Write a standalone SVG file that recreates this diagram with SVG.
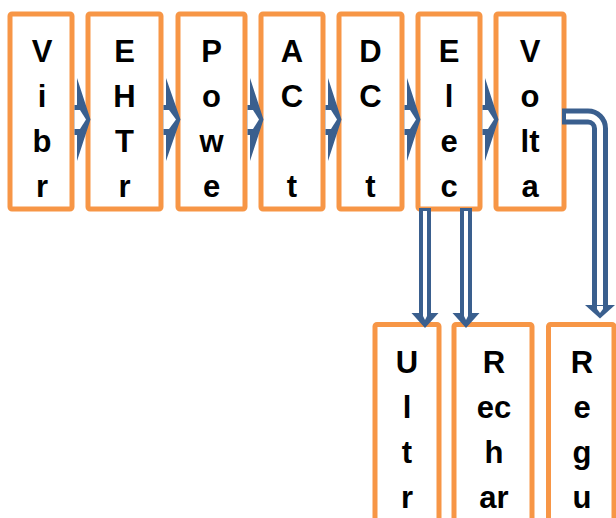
<svg xmlns="http://www.w3.org/2000/svg" width="616" height="518" viewBox="0 0 616 518">
<style>
.box{fill:#FFFFFF;stroke:#F79646;stroke-width:5}
.t{font-family:"Liberation Sans",Arial,sans-serif;font-weight:bold;font-size:31px;fill:#000000;text-anchor:middle}
.ab{fill:#3A5F8E}
.aw{fill:#FFFFFF}
</style>
<rect width="616" height="518" fill="#FFFFFF"/>
<g id="n1"><rect class="box" x="10" y="14" width="62" height="195" rx="2"/>
<text class="t" x="42" y="62">V</text><text class="t" x="42" y="107">i</text><text class="t" x="42" y="152">b</text><text class="t" x="42" y="197">r</text></g>
<g id="n2"><rect class="box" x="88" y="14" width="73" height="195" rx="2"/>
<text class="t" x="124.5" y="62">E</text><text class="t" x="124.5" y="107">H</text><text class="t" x="124.5" y="152">T</text><text class="t" x="124.5" y="197">r</text></g>
<g id="n3"><rect class="box" x="178" y="14" width="67" height="195" rx="2"/>
<text class="t" x="211.5" y="62">P</text><text class="t" x="211.5" y="107">o</text><text class="t" x="211.5" y="152">w</text><text class="t" x="211.5" y="197">e</text></g>
<g id="n4"><rect class="box" x="261" y="14" width="62" height="195" rx="2"/>
<text class="t" x="292" y="62">A</text><text class="t" x="292" y="107">C</text><text class="t" x="292" y="197">t</text></g>
<g id="n5"><rect class="box" x="339" y="14" width="63" height="195" rx="2"/>
<text class="t" x="370.5" y="62">D</text><text class="t" x="370.5" y="107">C</text><text class="t" x="370.5" y="197">t</text></g>
<g id="n6"><rect class="box" x="418" y="14" width="62" height="195" rx="2"/>
<text class="t" x="449" y="62">E</text><text class="t" x="449" y="107">l</text><text class="t" x="449" y="152">e</text><text class="t" x="449" y="197">c</text></g>
<g id="n7"><rect class="box" x="496" y="14" width="68" height="195" rx="2"/>
<text class="t" x="530" y="62">V</text><text class="t" x="530" y="107">o</text><text class="t" x="530" y="152">lt</text><text class="t" x="530" y="197">a</text></g>
<g id="n8"><rect class="box" x="375" y="324.5" width="64" height="210" rx="2"/>
<text class="t" x="407" y="373">U</text><text class="t" x="407" y="418">l</text><text class="t" x="407" y="463">t</text><text class="t" x="407" y="508">r</text></g>
<g id="n9"><rect class="box" x="454" y="324.5" width="78" height="210" rx="2"/>
<text class="t" x="494" y="373">R</text><text class="t" x="494" y="418">ec</text><text class="t" x="494" y="463">h</text><text class="t" x="494" y="508">ar</text></g>
<g id="n10"><rect class="box" x="548.5" y="324.5" width="65.5" height="210" rx="2"/>
<text class="t" x="582" y="373">R</text><text class="t" x="582" y="418">e</text><text class="t" x="582" y="463">g</text><text class="t" x="582" y="508">u</text></g>
<g id="connectors">
<!-- top row block arrows -->
<polygon class="ab" points="74.5,105 77,105 77,78 90.5,119.5 77,161 77,135 74.5,135"/>
<polygon class="aw" points="74.5,110 80,110 86,119.5 80,129 74.5,129"/>
<polygon class="ab" points="163.5,105 166,105 166,78 180.5,119.5 166,161 166,135 163.5,135"/>
<polygon class="aw" points="163.5,110 169,110 176,119.5 169,129 163.5,129"/>
<polygon class="ab" points="247.5,105 250,105 250,78 263.5,119.5 250,161 250,135 247.5,135"/>
<polygon class="aw" points="247.5,110 253,110 259,119.5 253,129 247.5,129"/>
<polygon class="ab" points="325.5,105 328,105 328,78 341.5,119.5 328,161 328,135 325.5,135"/>
<polygon class="aw" points="325.5,110 331,110 337,119.5 331,129 325.5,129"/>
<polygon class="ab" points="404.5,105 407,105 407,78 420.5,119.5 407,161 407,135 404.5,135"/>
<polygon class="aw" points="404.5,110 410,110 416,119.5 410,129 404.5,129"/>
<polygon class="ab" points="482.5,105 485,105 485,78 498.5,119.5 485,161 485,135 482.5,135"/>
<polygon class="aw" points="482.5,110 488,110 494,119.5 488,129 482.5,129"/>
<!-- down arrows from Elec -->
<polygon class="ab" points="419,208 431,208 431,313 438.5,313 425,328 411.5,313 419,313"/>
<polygon class="aw" points="423,211 427,211 427,316 425,320 423,316"/>
<polygon class="ab" points="460,208 472,208 472,313 479.5,313 466,328 452.5,313 460,313"/>
<polygon class="aw" points="464,211 468,211 468,316 466,320 464,316"/>
<!-- curved arrow Volta to Regu -->
<path d="M562,116.5 H588 A12,12 0 0 1 600,128.5 V307" fill="none" stroke="#3A5F8E" stroke-width="16"/>
<path d="M566,116.5 H588 A12,12 0 0 1 600,128.5 V309" fill="none" stroke="#FFFFFF" stroke-width="6"/>
<polygon class="ab" points="585,305 615,305 600,318.5"/>
<polygon class="aw" points="597,306 603,306 603,309 600,313 597,309"/>
</g>
</svg>
